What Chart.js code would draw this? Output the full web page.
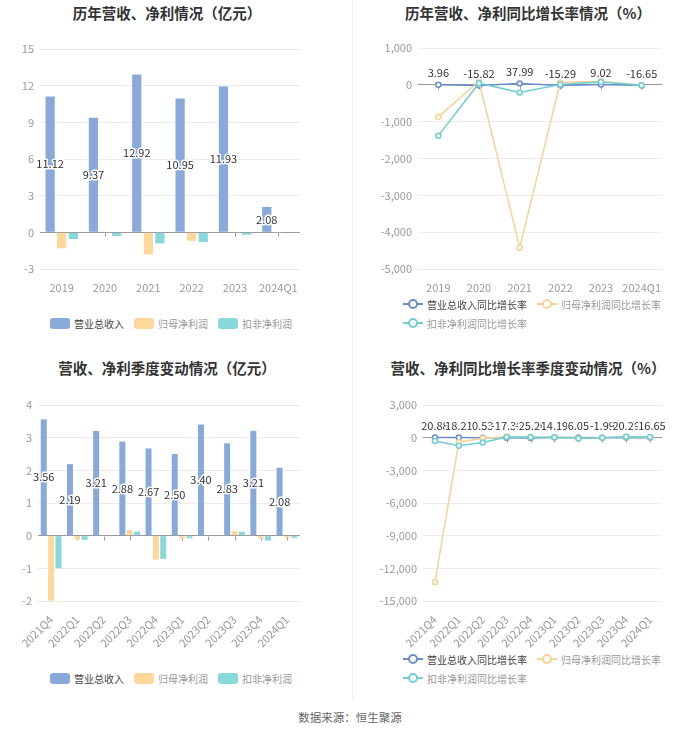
<!DOCTYPE html>
<html lang="zh">
<head>
<meta charset="UTF-8">
<title>营收、净利情况</title>
<script src="https://cdn.jsdelivr.net/npm/chart.js"></script>
<style>
  body { margin: 0; background: #fff; font-family: "Noto Sans CJK SC", "Noto Sans", sans-serif; }
  #page { position: relative; width: 700px; height: 734px; overflow: hidden; }
  .box { position: absolute; }
  .title { position: absolute; font-size: 14.5px; font-weight: bold; color: #333; white-space: nowrap; transform: translate(-50%, -50%); }
  .legend { position: absolute; display: flex; flex-wrap: wrap; column-gap: 10px; row-gap: 5px; font-size: 10px; }
  .item { display: flex; align-items: center; height: 14px; white-space: nowrap; }
  .item span { margin-left: 4px; }
  .barIcon { width: 20px; height: 11px; border-radius: 3px; }
  .lineIcon { position: relative; width: 20px; height: 14px; }
  .lineIcon i { position: absolute; left: 0; top: 6px; width: 20px; height: 2px; }
  .lineIcon b { position: absolute; left: 5px; top: 2px; width: 6px; height: 6px; border: 2px solid; border-radius: 50%; background: #fff; }
  .sep { position: absolute; left: 352px; top: 0; width: 1px; height: 700px; background: #f2f2f2; }
  .source { position: absolute; left: 350px; top: 717px; transform: translate(-50%, -50%); font-size: 11.5px; color: #666; }
</style>
</head>
<body>
<div id="page">
  <div class="sep"></div>
  <div class="title" style="left:167px;top:12px">历年营收、净利情况（亿元）</div>
  <div class="title" style="left:528px;top:12px">历年营收、净利同比增长率情况（%）</div>
  <div class="title" style="left:167px;top:367px">营收、净利季度变动情况（亿元）</div>
  <div class="title" style="left:528px;top:367px">营收、净利同比增长率季度变动情况（%）</div>

  <div class="box" style="left:0;top:0;width:335px;height:300px"><canvas id="c1"></canvas></div>
  <div class="box" style="left:355px;top:0;width:345px;height:300px"><canvas id="c2"></canvas></div>
  <div class="box" style="left:0;top:350px;width:335px;height:300px"><canvas id="c3"></canvas></div>
  <div class="box" style="left:355px;top:350px;width:345px;height:300px"><canvas id="c4"></canvas></div>

  <div class="legend" id="lg1" style="left:0;width:342px;top:316px;justify-content:center"></div>
  <div class="legend" id="lg2" style="left:403px;width:280px;top:297px"></div>
  <div class="legend" id="lg3" style="left:0;width:342px;top:671px;justify-content:center"></div>
  <div class="legend" id="lg4" style="left:403px;width:280px;top:652px"></div>

  <div class="source">数据来源：恒生聚源</div>
</div>

<script>
// annual data (亿元)
const years = ['2019', '2020', '2021', '2022', '2023', '2024Q1'];
const revenueYear = [11.12, 9.37, 12.92, 10.95, 11.93, 2.08];
const netProfitYear = [-1.31, -0.03, -1.80, -0.70, -0.03, -0.02];
const deductedProfitYear = [-0.55, -0.30, -0.90, -0.80, -0.20, -0.05];

// annual growth (%)
const revenueYearGrowth = [3.96, -15.82, 37.99, -15.29, 9.02, -16.65];
const netProfitYearGrowth = [-870, 97, -4420, 61, 96, -10];
const deductedProfitYearGrowth = [-1380, 45, -205, 11, 75, -12];

// quarterly data (亿元)
const quarters = ['2021Q4', '2022Q1', '2022Q2', '2022Q3', '2022Q4', '2023Q1', '2023Q2', '2023Q3', '2023Q4', '2024Q1'];
const revenueQuarter = [3.56, 2.19, 3.21, 2.88, 2.67, 2.50, 3.40, 2.83, 3.21, 2.08];
const netProfitQuarter = [-1.99, -0.12, -0.01, 0.17, -0.73, -0.08, -0.01, 0.14, -0.09, -0.05];
const deductedProfitQuarter = [-1.00, -0.13, -0.01, 0.13, -0.71, -0.08, -0.02, 0.12, -0.15, -0.07];

// quarterly growth (%)
const revenueQuarterGrowth = [20.88, 18.21, 0.53, -17.39, -25.20, 14.19, 6.05, -1.99, 20.26, -16.65];
const netProfitQuarterGrowth = [-13250, -420, -50, 80, 60, 30, -50, -20, 95, 20];
const deductedProfitQuarterGrowth = [-300, -750, -450, 60, 30, 40, -80, -10, 85, 50];

const barNames = ['营业总收入', '归母净利润', '扣非净利润'];
const lineNames = ['营业总收入同比增长率', '归母净利润同比增长率', '扣非净利润同比增长率'];
const barColors = ['#8aa9db', '#fdd89c', '#88d8dc'];
const lineColors = ['#6c8dc8', '#f9d195', '#6dcfd2'];
const legendText = ['#444', '#999', '#999'];

const FONT = '"Noto Sans CJK SC", "Noto Sans", sans-serif';

// value label with a white halo
function haloText(c, txt, x, y) {
    c.strokeStyle = '#fff';
    c.lineWidth = 3;
    c.strokeText(txt, x, y);
    c.fillStyle = '#333';
    c.fillText(txt, x, y);
}

// labels for the revenue series: bar centre or above the point
const valueLabels = {
    id: 'valueLabels',
    afterDatasetsDraw(chart, args, opts) {
        const idx = chart.data.datasets.findIndex(d => d.label.indexOf('营业总收入') === 0);
        const meta = chart.getDatasetMeta(idx);
        const data = chart.data.datasets[idx].data;
        const c = chart.ctx;
        c.save();
        c.font = '11px ' + FONT;
        c.textAlign = 'center';
        c.textBaseline = 'middle';
        c.lineJoin = 'round';
        meta.data.forEach((el, i) => {
            const y = opts.mode === 'center' ? (el.y + el.base) / 2 : el.y - 12;
            haloText(c, data[i].toFixed(2), el.x, y);
        });
        c.restore();
    }
};

// little ticks under the zero line at each category
const zeroTicks = {
    id: 'zeroTicks',
    beforeDatasetsDraw(chart) {
        const xs = chart.scales.x, ys = chart.scales.y;
        const y0 = Math.round(ys.getPixelForValue(0)) + 0.5;
        const c = chart.ctx;
        c.save();
        c.strokeStyle = '#999';
        c.lineWidth = 1;
        c.beginPath();
        chart.data.labels.forEach((_, i) => {
            const x = Math.round(xs.getPixelForValue(i)) + 0.5;
            c.moveTo(x, y0);
            c.lineTo(x, y0 + 4);
        });
        c.stroke();
        c.restore();
    }
};

function makeOptions(cfg) {
    return {
        responsive: true,
        maintainAspectRatio: false,
        animation: false,
        layout: { padding: { top: cfg.top, right: cfg.right, left: 0, bottom: 0 } },
        plugins: {
            legend: { display: false },
            tooltip: { enabled: false },
            valueLabels: { mode: cfg.labelMode }
        },
        scales: {
            x: {
                offset: true,
                grid: { display: false },
                border: { display: false },
                ticks: {
                    color: '#999', font: { size: 11, family: FONT }, padding: cfg.xPad,
                    autoSkip: false, maxRotation: cfg.rot, minRotation: cfg.rot
                },
                afterFit(scale) { scale.height = cfg.xHeight; }
            },
            y: {
                min: cfg.min, max: cfg.max,
                border: { display: false },
                grid: {
                    drawTicks: false,
                    color: ctx => ctx.tick.value === 0 ? '#999' : '#ececec'
                },
                ticks: { stepSize: cfg.step, color: '#999', font: { size: 11, family: FONT }, padding: 6 },
                afterFit(scale) { scale.width = cfg.yWidth; }
            }
        }
    };
}

function barChart(id, labels, series, cfg) {
    new Chart(document.getElementById(id), {
        type: 'bar',
        data: {
            labels: labels,
            datasets: series.map((d, i) => ({
                label: barNames[i],
                data: d,
                backgroundColor: barColors[i],
                categoryPercentage: cfg.catPct,
                barPercentage: cfg.barPct
            }))
        },
        options: makeOptions(Object.assign({ labelMode: 'center' }, cfg)),
        plugins: [zeroTicks, valueLabels]
    });
}

function lineChart(id, labels, series, cfg) {
    new Chart(document.getElementById(id), {
        type: 'line',
        data: {
            labels: labels,
            // reversed so the revenue line sits on top
            datasets: series.map((d, i) => ({
                label: lineNames[i],
                data: d,
                borderColor: lineColors[i],
                backgroundColor: '#fff',
                borderWidth: 1.5,
                pointRadius: 2.5,
                pointBorderWidth: 1.5,
                pointBackgroundColor: '#fff',
                tension: 0
            })).reverse()
        },
        options: makeOptions(Object.assign({ labelMode: 'above' }, cfg)),
        plugins: [zeroTicks, valueLabels]
    });
}

function legend(id, names, kind) {
    const box = document.getElementById(id);
    names.forEach((n, i) => {
        const it = document.createElement('div');
        it.className = 'item';
        let icon;
        if (kind === 'bar') {
            icon = '<div class="barIcon" style="background:' + barColors[i] + '"></div>';
        } else {
            icon = '<div class="lineIcon"><i style="background:' + lineColors[i] + '"></i><b style="border-color:' + lineColors[i] + '"></b></div>';
        }
        it.innerHTML = icon + '<span style="color:' + legendText[i] + '">' + n + '</span>';
        box.appendChild(it);
    });
}

barChart('c1', years, [revenueYear, netProfitYear, deductedProfitYear],
    { top: 49, right: 35, yWidth: 40, xHeight: 31, xPad: 4, rot: 0, min: -3, max: 15, step: 3, catPct: 0.8, barPct: 0.8 });

lineChart('c2', years, [revenueYearGrowth, netProfitYearGrowth, deductedProfitYearGrowth],
    { top: 48, right: 38, yWidth: 63, xHeight: 31, xPad: 4, rot: 0, min: -5000, max: 1000, step: 1000 });

barChart('c3', quarters, [revenueQuarter, netProfitQuarter, deductedProfitQuarter],
    { top: 55, right: 35, yWidth: 38, xHeight: 49, xPad: 4, rot: 45, min: -2, max: 4, step: 1, catPct: 0.84, barPct: 0.82 });

lineChart('c4', quarters, [revenueQuarterGrowth, netProfitQuarterGrowth, deductedProfitQuarterGrowth],
    { top: 55, right: 38, yWidth: 68, xHeight: 49, xPad: 4, rot: 45, min: -15000, max: 3000, step: 3000 });

legend('lg1', barNames, 'bar');
legend('lg2', lineNames, 'line');
legend('lg3', barNames, 'bar');
legend('lg4', lineNames, 'line');
</script>
</body>
</html>
